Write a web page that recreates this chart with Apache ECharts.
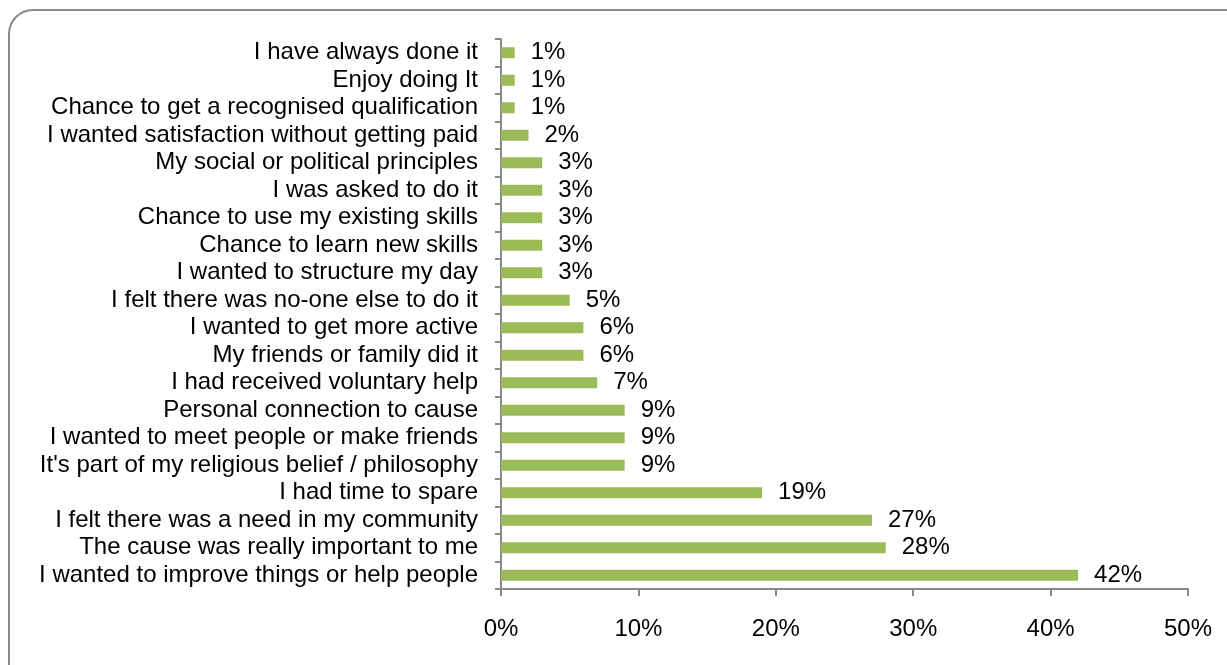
<!DOCTYPE html>
<html><head><meta charset="utf-8">
<script src="https://cdn.jsdelivr.net/npm/echarts@6/dist/echarts.min.js"></script>
<style>html,body{margin:0;padding:0;background:#fff}#c{width:1227px;height:665px}</style>
</head><body><div id="c"></div>
<script>
var categories = [
  "I have always done it",
  "Enjoy doing It",
  "Chance to get a recognised qualification",
  "I wanted satisfaction without getting paid",
  "My social or political principles",
  "I was asked to do it",
  "Chance to use my existing skills",
  "Chance to learn new skills",
  "I wanted to structure my day",
  "I felt there was no-one else to do it",
  "I wanted to get more active",
  "My friends or family did it",
  "I had received voluntary help",
  "Personal connection to cause",
  "I wanted to meet people or make friends",
  "It's part of my religious belief / philosophy",
  "I had time to spare",
  "I felt there was a need in my community",
  "The cause was really important to me",
  "I wanted to improve things or help people"
];
var values = [1,1,1,2,3,3,3,3,3,5,6,6,7,9,9,9,19,27,28,42];
var xTicks = [0,10,20,30,40,50];

var chart = echarts.init(document.getElementById('c'));
var font = 'Liberation Sans, Arial, sans-serif';
chart.setOption({
  animation:false,
  graphic:[{type:'rect',shape:{x:9,y:10,width:1240,height:680,r:24},style:{fill:'none',stroke:'#8a8a8a',lineWidth:2},silent:true}],
  grid:{left:501,right:39,top:39,bottom:76,containLabel:false},
  xAxis:{type:'value',min:xTicks[0],max:xTicks[xTicks.length-1],interval:10,
    axisLine:{show:true,lineStyle:{color:'#888',width:2}},
    axisTick:{show:true,length:7,lineStyle:{color:'#888',width:2}},
    splitLine:{show:false},
    axisLabel:{formatter:function(v){return v+'%';},color:'#000',fontFamily:font,fontSize:24,margin:28}
  },
  yAxis:{type:'category',inverse:true,data:categories,
    axisLine:{show:true,lineStyle:{color:'#888',width:2}},
    axisTick:{show:true,length:6,inside:false,lineStyle:{color:'#888',width:2}},
    axisLabel:{interval:0,color:'#000',fontFamily:font,fontSize:24,margin:23}
  },
  series:[{type:'bar',data:values,barWidth:11,itemStyle:{color:'#9BBB59'},
    label:{show:true,position:'right',distance:16,formatter:'{c}%',color:'#000',fontFamily:font,fontSize:24}
  }]
});
</script></body></html>
